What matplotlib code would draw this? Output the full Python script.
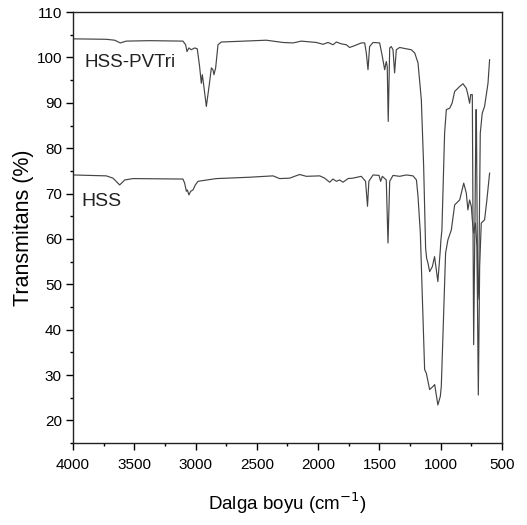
import matplotlib
matplotlib.use("Agg")
import matplotlib.pyplot as plt
from matplotlib.ticker import MultipleLocator

plt.rcParams['font.family'] = ['Liberation Sans', 'DejaVu Sans']

# HSS-PVTri spectrum (wavenumber cm-1, transmittance %)
pvtri_wn = [4000, 3728, 3660, 3614, 3565, 3374, 3103, 3081, 3070, 3054, 3035, 3007, 2986,
            2967, 2953, 2945, 2934, 2912, 2890, 2871, 2858, 2850, 2836, 2817, 2790, 2695,
            2423, 2287, 2205, 2137, 2015, 1960, 1919, 1879, 1851, 1811, 1770, 1743, 1702,
            1648, 1620, 1607, 1593, 1580, 1552, 1498, 1476, 1457, 1444, 1436, 1428, 1416,
            1403, 1389, 1376, 1362, 1335, 1280, 1240, 1212, 1185, 1158, 1139, 1123, 1115,
            1104, 1090, 1068, 1050, 1023, 1003, 998, 990, 968, 954, 927, 907, 886, 845,
            818, 791, 778, 764, 755, 742, 731, 720, 712, 709, 698, 690, 677, 661, 642,
            614, 601]
pvtri_t = [104.1, 104.0, 103.8, 103.2, 103.6, 103.7, 103.6, 102.8, 101.3, 102.1, 101.7, 102.1, 101.9,
           98.0, 94.3, 96.2, 94.0, 89.2, 93.6, 97.7, 97.3, 96.2, 97.7, 102.8, 103.4, 103.5,
           103.8, 103.3, 103.2, 103.6, 103.3, 102.9, 103.3, 102.8, 103.4, 103.0, 102.8, 102.2, 102.6,
           103.2, 103.2, 101.0, 97.3, 102.4, 103.3, 103.2, 100.2, 97.3, 99.1, 98.0, 85.9, 102.1,
           102.4, 101.7, 96.6, 101.7, 102.2, 101.9, 101.7, 101.0, 98.8, 90.7, 76.0, 58.0, 55.8,
           54.7, 52.8, 53.9, 56.1, 50.6, 57.6, 59.8, 62.0, 83.3, 88.5, 88.8, 89.9, 92.5, 93.6,
           94.2, 93.2, 91.8, 89.9, 91.8, 91.8, 36.7, 65.0, 88.5, 88.5, 46.6, 49.5, 83.3, 87.7, 89.2,
           94.3, 99.5]

# HSS spectrum
hss_wn = [4000, 3728, 3674, 3619, 3578, 3510, 3103, 3089, 3075, 3067, 3054, 3040, 3021, 3002,
          2980, 2831, 2559, 2368, 2314, 2232, 2151, 2096, 1987, 1947, 1906, 1879, 1851, 1824,
          1797, 1756, 1716, 1648, 1613, 1597, 1586, 1552, 1503, 1490, 1476, 1444, 1430, 1416,
          1389, 1335, 1280, 1226, 1198, 1185, 1166, 1149, 1131, 1117, 1090, 1062, 1049, 1023,
          1003, 995, 981, 960, 941, 913, 886, 845, 812, 791, 778, 764, 750, 742, 731, 717,
          704, 693, 682, 669, 642, 623, 601]
hss_t = [74.1, 73.9, 73.4, 71.9, 73.0, 73.3, 73.2, 72.3, 70.5, 70.8, 69.7, 70.5, 70.8, 71.9,
         72.7, 73.3, 73.6, 73.9, 73.3, 73.4, 74.2, 73.8, 73.9, 73.4, 72.5, 73.2, 72.7, 73.0,
         72.5, 73.3, 73.4, 73.8, 72.7, 67.2, 72.7, 74.1, 74.0, 72.7, 73.8, 73.0, 59.1, 72.7,
         74.0, 73.8, 74.1, 73.9, 73.0, 69.4, 61.3, 46.6, 31.2, 30.4, 26.8, 27.5, 27.9, 23.4,
         25.3, 27.5, 39.2, 56.9, 59.8, 62.0, 67.5, 68.6, 72.3, 70.1, 66.4, 68.6, 67.2, 64.2, 61.3, 63.5,
         58.3, 25.6, 53.9, 63.5, 64.2, 68.6, 74.5]

series_labels = ["HSS-PVTri", "HSS"]
x_ticks = [4000, 3500, 3000, 2500, 2000, 1500, 1000, 500]
y_ticks = [20, 30, 40, 50, 60, 70, 80, 90, 100, 110]

fig = plt.figure(figsize=(5.27, 5.25), dpi=100)
ax = fig.add_axes([0.1385, 0.156, 0.814, 0.821])

line_color = '#444444'
ax.plot(pvtri_wn, pvtri_t, color=line_color, lw=0.85)
ax.plot(hss_wn, hss_t, color=line_color, lw=0.85)

ax.set_xlim(4000, 500)
ax.set_ylim(15, 110)
ax.set_xticks(x_ticks)
ax.set_yticks(y_ticks)
ax.xaxis.set_minor_locator(MultipleLocator(250))
ax.yaxis.set_minor_locator(MultipleLocator(5))

ax.tick_params(which='major', direction='out', length=5, width=1, labelsize=11)
ax.tick_params(axis='x', which='major', pad=6)
ax.tick_params(axis='y', which='major', pad=3)
ax.tick_params(which='minor', direction='out', length=2.5, width=1)
ax.tick_params(top=False, right=False, which='both')
for s in ax.spines.values():
    s.set_linewidth(1.0)
    s.set_color('#222222')

ax.set_xlabel('Dalga boyu (cm$^{-1}$)', fontsize=13.5, labelpad=13)
ax.set_ylabel('Transmitans (%)', fontsize=15.5, labelpad=2)

ax.text(3910, 98.8, series_labels[0], fontsize=13.5, va='center', ha='left', color='#222222')
ax.text(3935, 68.2, series_labels[1], fontsize=14, va='center', ha='left', color='#222222')

fig.savefig('out.png', dpi=100)
